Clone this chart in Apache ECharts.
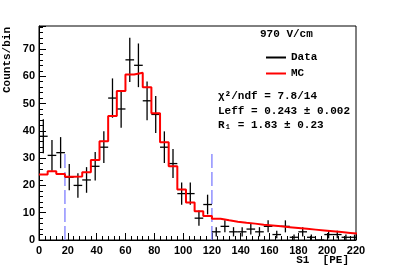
<!DOCTYPE html>
<html><head><meta charset="utf-8">
<script src="https://cdn.jsdelivr.net/npm/echarts/dist/echarts.min.js"></script>
<style>html,body{margin:0;padding:0;background:#fff}#c{width:395px;height:267px}</style>
</head><body><div id="c"></div>
<script>
// ---- data ----
const binWidth = 6;
const binCenters = [3,9,15,21,27,33,39,45,51,57,63,69,75,81,87,93,99,105,111,117,123,129,135,141,147,153,159,165,171,177,183,189,195,201,207,213,219];
const dataCounts = [38,31,32,23,20,22,27,34,52,48,66,64,51,46,34,28,17,17,8,13,3,5,3,3,4,3,5,2,5,1,3,1,0,2,2,1,1];
const dataErrors = [6.2,5.6,5.7,4.8,4.5,4.7,5.2,5.8,7.2,6.9,8.1,8.0,7.1,6.8,5.8,5.3,4.1,4.1,2.8,3.6,1.7,2.2,1.7,1.7,2.0,1.7,2.2,1.4,2.2,1.0,1.7,1.0,0,1.4,1.4,1.0,1.0];
const mcCounts = [24.0,25.2,24.2,23.2,23.3,24.8,29.3,36.2,45.4,54.6,60.6,61.3,56.0,46.4,35.8,27.0,18.5,13.7,10.5,8.8,7.8,7.2,6.7,6.3,6.0,5.6,5.3,5.0,4.7,4.4,4.1,3.8,3.5,3.2,2.9,2.6,2.3];
const cutPositions = [18, 120];
const cutHeight = 33;
const fieldLabel = '970 V/cm';
const statLines = ['χ²/ndf = 7.8/14', 'Leff = 0.243 ± 0.002', 'R₁ = 1.83 ± 0.23'];
const xTitle = 'S1  [PE]';
const yTitle = 'Counts/bin';
const seriesNames = ['Data', 'MC'];

// ---- build ----
const monoBold = 'bold 11px "Liberation Mono", "DejaVu Sans Mono", monospace';
const labelFont = {fontFamily: 'Liberation Sans', fontWeight: 'bold', fontSize: 11, color: '#000'};

const dataPts = binCenters.map((c, i) => [c, dataCounts[i], dataErrors[i]]);
const mcPts = binCenters.map((c, i) => [c - binWidth / 2, mcCounts[i]]);
mcPts.push([binCenters[binCenters.length - 1] + binWidth / 2, mcCounts[mcCounts.length - 1]]);

const chart = echarts.init(document.getElementById('c'), null, {renderer: 'canvas'});
chart.setOption({
  animation: false,
  backgroundColor: '#fff',
  grid: {left: 39, right: 39, top: 26, bottom: 27, show: true, borderColor: '#000', borderWidth: 1, backgroundColor: 'transparent'},
  xAxis: {
    type: 'value', min: 0, max: 220, interval: 20,
    axisLine: {show: true, lineStyle: {color: '#000', width: 1}},
    axisTick: {show: true, inside: true, length: 7, lineStyle: {color: '#000'}},
    minorTick: {show: true, splitNumber: 5, length: 4, lineStyle: {color: '#000'}},
    splitLine: {show: false},
    axisLabel: Object.assign({margin: 5}, labelFont)
  },
  yAxis: {
    type: 'value', min: 0, max: 78.4, interval: 10,
    axisLine: {show: true, lineStyle: {color: '#000', width: 1}},
    axisTick: {show: true, inside: true, length: 7, lineStyle: {color: '#000'}},
    minorTick: {show: true, splitNumber: 5, length: 4, lineStyle: {color: '#000'}},
    splitLine: {show: false},
    axisLabel: Object.assign({margin: 4, showMaxLabel: false}, labelFont)
  },
  legend: {
    orient: 'vertical', left: 261, top: 47, itemWidth: 20, itemHeight: 2, itemGap: 5,
    data: [{name: seriesNames[0], icon: 'rect'}, {name: seriesNames[1], icon: 'rect'}],
    textStyle: {fontFamily: '"Liberation Mono", monospace', fontWeight: 'bold', fontSize: 11, color: '#000'},
    selectedMode: false
  },
  graphic: [
    {type: 'text', left: 260, top: 29, style: {text: fieldLabel, font: monoBold, fill: '#000'}},
    {type: 'text', left: 218, top: 91, style: {text: statLines[0], font: monoBold, fill: '#000'}},
    {type: 'text', left: 218, top: 106, style: {text: statLines[1], font: monoBold, fill: '#000'}},
    {type: 'text', left: 218, top: 120, style: {text: statLines[2], font: monoBold, fill: '#000'}},
    {type: 'text', x: 7, y: 27, rotation: Math.PI / 2, style: {text: yTitle, font: monoBold, fill: '#000', align: 'right', verticalAlign: 'middle'}},
    {type: 'text', x: 349, y: 260, style: {text: xTitle, font: monoBold, fill: '#000', align: 'right', verticalAlign: 'middle'}}
  ],
  series: [
    {
      name: seriesNames[0], type: 'custom', clip: true, z: 3,
      itemStyle: {color: '#000'},
      data: dataPts, encode: {x: 0, y: 1},
      renderItem: function (params, api) {
        const x = api.value(0), v = api.value(1), e = api.value(2);
        const l = api.coord([x - binWidth / 2, v]);
        const r = api.coord([x + binWidth / 2, v]);
        const lo = api.coord([x, v - e]);
        const hi = api.coord([x, v + e]);
        return {type: 'group', children: [
          {type: 'line', shape: {x1: l[0], y1: l[1], x2: r[0], y2: r[1]}, style: {stroke: '#000', lineWidth: 1.3}},
          {type: 'line', shape: {x1: lo[0], y1: lo[1], x2: hi[0], y2: hi[1]}, style: {stroke: '#000', lineWidth: 1.3}}
        ]};
      }
    },
    {
      name: seriesNames[1], type: 'line', step: 'end', showSymbol: false, clip: true, z: 4,
      itemStyle: {color: '#ff0000'},
      lineStyle: {color: '#ff0000', width: 2},
      data: mcPts
    },
    {
      name: 'cuts', type: 'custom', clip: true, z: 2,
      data: cutPositions.map(p => [p, cutHeight]), encode: {x: 0, y: 1},
      renderItem: function (params, api) {
        const x = api.value(0), h = api.value(1);
        const b = api.coord([x, 0]);
        const t = api.coord([x, h]);
        return {type: 'line', shape: {x1: b[0], y1: b[1], x2: t[0], y2: t[1]},
          style: {stroke: '#7f7fff', lineWidth: 1.3, lineDash: [14, 4]}};
      }
    }
  ]
});
</script>
</body></html>
